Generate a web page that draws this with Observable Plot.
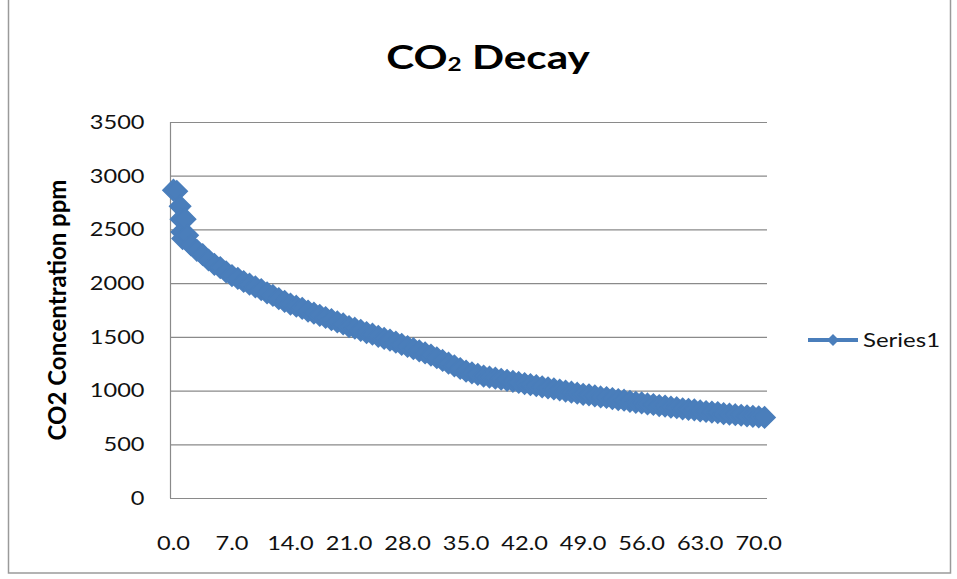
<!DOCTYPE html>
<html>
<head>
<meta charset="utf-8">
<script src="https://cdn.jsdelivr.net/npm/d3@7"></script>
<script src="https://cdn.jsdelivr.net/npm/@observablehq/plot@0.6"></script>
<style>
  html, body { margin: 0; padding: 0; background: #fff; }
  #wrap { position: relative; width: 957px; height: 579px; overflow: hidden; }
  #wrap > svg { position: absolute; left: 0; top: 0; }
</style>
</head>
<body>
<div id="wrap"></div>
<script>
// sample times
const times = [
  0.0,0.4,0.8,0.9,1.0,1.1,1.4,1.7,2.1,2.8,3.5,4.2,4.9,5.6,6.3,
  7.0,7.7,8.4,9.1,9.8,10.5,11.2,11.9,12.6,13.3,
  14.0,14.7,15.4,16.1,16.8,17.5,18.2,18.9,19.6,20.3,
  21.0,21.7,22.4,23.1,23.8,24.5,25.2,25.9,26.6,27.3,
  28.0,28.7,29.4,30.1,30.8,31.5,32.2,32.9,33.6,34.3,
  35.0,35.7,36.4,37.1,37.8,38.5,39.2,39.9,40.6,41.3,
  42.0,42.7,43.4,44.1,44.8,45.5,46.2,46.9,47.6,48.3,
  49.0,49.7,50.4,51.1,51.8,52.5,53.2,53.9,54.6,55.3,
  56.0,56.7,57.4,58.1,58.8,59.5,60.2,60.9,61.6,62.3,
  63.0,63.7,64.4,65.1,65.8,66.5,67.2,67.9,68.6,69.3,
  70.0,70.7
];
// Series1: CO2 concentration (ppm)
const co2 = [
  2870,2860,2720,2600,2480,2420,2600,2450,2360,2310,2270,2220,2180,2150,2110,
  2075,2050,2020,1995,1970,1945,1915,1890,1860,1835,
  1810,1790,1770,1745,1725,1705,1685,1665,1645,1625,
  1600,1585,1565,1545,1530,1510,1490,1475,1455,1435,
  1415,1395,1375,1355,1335,1310,1285,1260,1235,1210,
  1185,1170,1155,1140,1130,1120,1110,1100,1090,1080,
  1070,1060,1050,1040,1030,1020,1010,1000,990,980,
  970,965,955,945,940,930,920,915,905,895,
  890,880,875,865,860,850,845,835,830,825,
  815,810,805,800,790,785,780,775,770,765,
  760,755
];
const yTicks = [0,500,1000,1500,2000,2500,3000,3500];
const xTicks = [0,7,14,21,28,35,42,49,56,63,70];
const seriesName = "Series1";
const titleMain = "CO";
const titleSub = "2";
const titleRest = " Decay";
const yTitle = "CO2 Concentration ppm";

const data = times.map((t, i) => ({t, v: co2[i]}));
const blue = "#4a7ebb";
const grid = "#8a8a8a";

const chart = Plot.plot({
  width: 957,
  height: 579,
  marginLeft: 170,
  marginRight: 190,
  marginTop: 122,
  marginBottom: 81,
  style: {fontFamily: "Lato", fontSize: "20px", color: "#111", background: "transparent"},
  x: {domain: [-0.35, 71.05]},
  y: {domain: [0, 3500]},
  marks: [
    Plot.ruleY(yTicks, {stroke: grid, strokeWidth: 1.2}),
    Plot.ruleX([-0.35], {y1: 0, y2: 3500, stroke: grid, strokeWidth: 1.2}),
    Plot.axisY({ticks: yTicks, tickSize: 0, tickPadding: 26, label: null, tickFormat: d3.format("d")}),
    Plot.axisX({ticks: xTicks, tickSize: 0, tickPadding: 37, label: null, tickFormat: d3.format(".1f")}),
    Plot.line(data, {x: "t", y: "v", stroke: blue, strokeWidth: 4}),
    Plot.dot(data, {x: "t", y: "v", symbol: "diamond2", r: 9.5, fill: blue, stroke: blue, strokeWidth: 1.5})
  ]
});

// horizontally widen the tick labels like the reference rendering
for (const t of chart.querySelectorAll('g[aria-label$="tick label"] text')) {
  let tr = t.getAttribute("transform");
  if (!tr) {
    const x = +t.getAttribute("x") || 0, y = +t.getAttribute("y") || 0;
    t.removeAttribute("x"); t.removeAttribute("y");
    tr = `translate(${x},${y})`;
  }
  t.setAttribute("transform", tr + " scale(1.18,1)");
}

document.getElementById("wrap").appendChild(chart);

// overlay: frame, title, y title, legend
const ns = "http://www.w3.org/2000/svg";
const ov = document.createElementNS(ns, "svg");
ov.setAttribute("width", 957); ov.setAttribute("height", 579);
ov.style.fontFamily = "Lato";
ov.innerHTML = `
  <rect x="8.5" y="-5" width="942" height="578" fill="none" stroke="#9a9a9a" stroke-width="1.5"/>
  <text transform="translate(488,69) scale(1.28,1)" text-anchor="middle" font-weight="bold" font-size="33" fill="#000">${titleMain}<tspan font-size="19" dy="2">${titleSub}</tspan><tspan dy="-2">${titleRest}</tspan></text>
  <text transform="translate(66,310) rotate(-90)" text-anchor="middle" font-weight="bold" font-size="24" fill="#000">${yTitle}</text>
  <line x1="808" y1="340" x2="858" y2="340" stroke="${blue}" stroke-width="4"/>
  <path d="M833,334L839,340L833,346L827,340Z" fill="${blue}"/>
  <text transform="translate(863,347) scale(1.2,1)" font-size="20" fill="#111">${seriesName}</text>
`;
document.getElementById("wrap").appendChild(ov);
</script>
</body>
</html>
